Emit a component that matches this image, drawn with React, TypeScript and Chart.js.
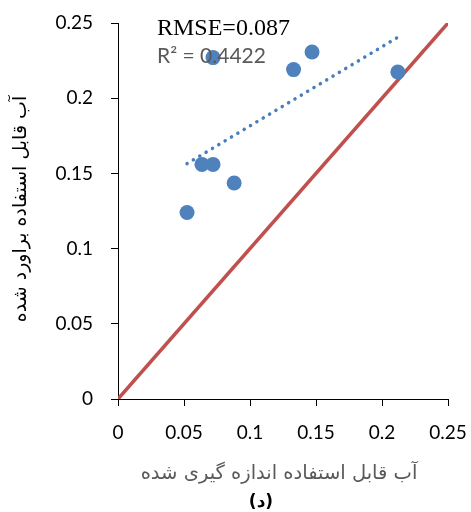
import React, { useEffect, useRef } from "react";
import { Chart, registerables } from "chart.js";

Chart.register(...registerables);

// Measured vs. estimated available water
const measured = [0.0523, 0.0636, 0.072, 0.072, 0.088, 0.133, 0.147, 0.212];
const estimated = [0.124, 0.156, 0.156, 0.227, 0.1436, 0.219, 0.2307, 0.2174];

const axisMin = 0;
const axisMax = 0.25;
const tickStep = 0.05;
const tickLabels = ["0", "0.05", "0.1", "0.15", "0.2", "0.25"];

const xTitle = "آب قابل استفاده اندازه گیری شده";
const yTitle = "آب قابل استفاده براورد شده";
const panelLabel = "(د)";
const rmseText = "RMSE=0.087";
const r2Text = "R² = 0.4422";

// least-squares fit of estimated on measured
function linearFit(xs: number[], ys: number[]) {
  const n = xs.length;
  const mx = xs.reduce((a, b) => a + b, 0) / n;
  const my = ys.reduce((a, b) => a + b, 0) / n;
  let sxy = 0;
  let sxx = 0;
  for (let i = 0; i < n; i++) {
    sxy += (xs[i] - mx) * (ys[i] - my);
    sxx += (xs[i] - mx) * (xs[i] - mx);
  }
  const slope = sxy / sxx;
  return { slope, intercept: my - slope * mx };
}

const textPlugin = {
  id: "panelText",
  afterDatasetsDraw(chart: any) {
    const { ctx } = chart;
    ctx.save();
    ctx.textBaseline = "alphabetic";
    ctx.textAlign = "left";
    ctx.fillStyle = "#000000";
    ctx.font = "24px 'Liberation Serif'";
    ctx.fillText(rmseText, 157, 35);
    ctx.fillStyle = "#595959";
    ctx.font = "21px Lato";
    ctx.fillText(r2Text, 157, 63);
    ctx.restore();
  },
  afterDraw(chart: any) {
    const { ctx, chartArea } = chart;
    const cx = (chartArea.left + chartArea.right) / 2;
    const cy = (chartArea.top + chartArea.bottom) / 2;
    ctx.save();
    ctx.textAlign = "center";
    ctx.textBaseline = "middle";
    ctx.font = "19.5px 'DejaVu Sans'";
    ctx.fillStyle = "#595959";
    ctx.fillText(xTitle, cx - 4, 474);
    ctx.fillStyle = "#000000";
    ctx.font = "bold 17px 'DejaVu Sans'";
    ctx.fillText(panelLabel, cx - 22, 503);
    ctx.translate(21, cy - 2);
    ctx.rotate(-Math.PI / 2);
    ctx.font = "19px 'DejaVu Sans'";
    ctx.fillText(yTitle, 0, 0);
    ctx.restore();
  },
};

export default function App() {
  const canvasRef = useRef<HTMLCanvasElement>(null);

  useEffect(() => {
    document.body.style.margin = "0";
    const fit = linearFit(measured, estimated);
    const xLo = Math.min(...measured);
    const xHi = Math.max(...measured);
    const points = measured.map((x, i) => ({ x, y: estimated[i] }));

    const chart = new Chart(canvasRef.current as HTMLCanvasElement, {
      type: "scatter",
      data: {
        datasets: [
          {
            label: "trend",
            type: "line",
            data: [
              { x: xLo, y: fit.intercept + fit.slope * xLo },
              { x: xHi, y: fit.intercept + fit.slope * xHi },
            ],
            borderColor: "#4A7EBB",
            borderWidth: 3.5,
            borderCapStyle: "round",
            borderDash: [0.1, 7.3],
            pointRadius: 0,
            fill: false,
            order: 0,
          },
          {
            label: "points",
            data: points,
            backgroundColor: "#4F81BD",
            borderColor: "#4F81BD",
            pointRadius: 7.5,
            pointBorderWidth: 0,
            order: 1,
          },
          {
            label: "1:1",
            type: "line",
            data: [
              { x: axisMin, y: axisMin },
              { x: axisMax, y: axisMax },
            ],
            borderColor: "#C0504D",
            borderWidth: 3.5,
            pointRadius: 0,
            fill: false,
            order: 2,
          },
        ],
      } as any,
      options: {
        responsive: false,
        animation: false,
        layout: { padding: { top: 23, right: 23, left: 0, bottom: 0 } },
        plugins: {
          legend: { display: false },
          tooltip: { enabled: false },
        },
        scales: {
          x: {
            type: "linear",
            min: axisMin,
            max: axisMax,
            ticks: {
              stepSize: tickStep,
              color: "#000000",
              font: { family: "Lato", size: 19 },
              padding: 15,
              maxRotation: 0,
              callback: (_v: any, i: number) => tickLabels[i],
            },
            grid: {
              display: true,
              drawOnChartArea: false,
              drawTicks: true,
              tickLength: 7,
              color: "#000000",
            },
            border: { display: true, color: "#000000", width: 1 },
            afterFit: (scale: any) => {
              scale.height = 113;
              scale.paddingLeft = 0;
              scale.paddingRight = 0;
            },
          },
          y: {
            type: "linear",
            min: axisMin,
            max: axisMax,
            ticks: {
              stepSize: tickStep,
              color: "#000000",
              font: { family: "Lato", size: 19 },
              padding: 18,
              callback: (_v: any, i: number) => tickLabels[i],
            },
            grid: {
              display: true,
              drawOnChartArea: false,
              drawTicks: true,
              tickLength: 7,
              color: "#000000",
            },
            border: { display: true, color: "#000000", width: 1 },
            afterFit: (scale: any) => {
              scale.width = 118;
              scale.paddingTop = 0;
              scale.paddingBottom = 0;
            },
          },
        },
      } as any,
      plugins: [textPlugin],
    });

    return () => chart.destroy();
  }, []);

  return (
    <div style={{ width: 471, height: 512 }}>
      <canvas ref={canvasRef} width={471} height={512} />
    </div>
  );
}
